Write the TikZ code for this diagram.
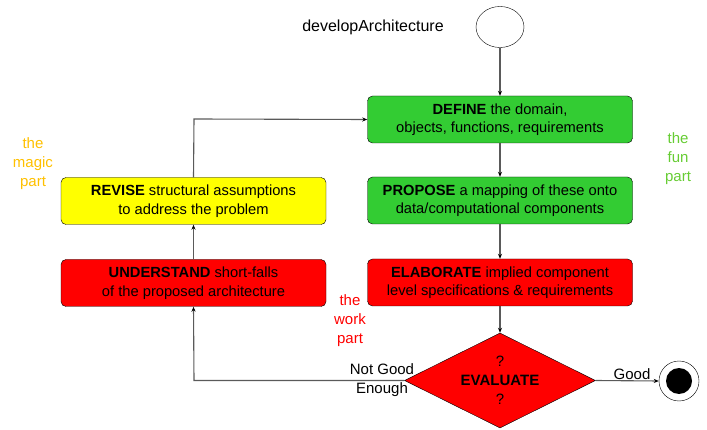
\documentclass[tikz,border=0pt]{standalone}
\usepackage{fontspec}
\setmainfont{Liberation Sans}
\usetikzlibrary{shapes.geometric,arrows.meta}
\definecolor{fgreen}{RGB}{51,204,51}
\definecolor{fred}{RGB}{255,0,0}
\definecolor{fyellow}{RGB}{255,255,0}
\definecolor{magic}{RGB}{255,192,0}
\definecolor{fun}{RGB}{102,204,51}
\definecolor{linegray}{RGB}{90,90,90}
\tikzset{
  x=1pt,y=-1pt,
  stepbox/.style={draw=black,rounded corners=5pt,minimum width=265pt,minimum height=47pt,align=center,font=\fontsize{14.7}{18.5}\selectfont,inner sep=0pt},
  conn/.style={draw=linegray,line width=1.1pt,-{Stealth[length=5pt,width=4pt,black]}},
  lbl/.style={font=\fontsize{15}{19}\selectfont,align=center},
}
\begin{document}
\begin{tikzpicture}
\useasboundingbox (0,0) rectangle (707,430);
\node[draw,ellipse,minimum width=48pt,minimum height=41pt,inner sep=0pt] (start) at (500,27) {};
\node[lbl,font=\fontsize{16}{19}\selectfont] (title) at (373,27) {developArchitecture};
\node[stepbox,fill=fgreen] (define) at (500,119.5) {\textbf{DEFINE} the domain,\\objects, functions, requirements};
\node[stepbox,fill=fgreen] (propose) at (500,200.5) {\textbf{PROPOSE} a mapping of these onto\\data/computational components};
\node[stepbox,fill=fred] (elab) at (500,282.5) {\textbf{ELABORATE} implied component\\level specifications \& requirements};
\node[stepbox,fill=fyellow] (revise) at (193.5,201) {\textbf{REVISE} structural assumptions\\to address the problem};
\node[stepbox,fill=fred] (under) at (193.5,283) {\textbf{UNDERSTAND} short-falls\\of the proposed architecture};
\node[draw,diamond,fill=fred,minimum width=191pt,minimum height=95pt,inner sep=0pt,aspect=2] (eval) at (500,380.5) {};
\node[lbl,align=center] (evaltext) at (500,380.5) {?\\\textbf{EVALUATE}\\?};
\node[draw,circle,minimum size=40pt,inner sep=0pt] (endo) at (679,381) {};
\node[circle,fill=black,minimum size=26pt,inner sep=0pt] (endi) at (679,381) {};
\coordinate (cornerA) at (194,380.5);
\coordinate (cornerB) at (194,119);
\node[lbl,text=magic] (magic) at (33,164) {the\\magic\\part};
\node[lbl,text=fun] (fun) at (678,159) {the\\fun\\part};
\node[lbl,text=fred] (work) at (350,321) {the\\work\\part};
\node[lbl,inner sep=0pt] (notgood) at (382,380.5) {Not Good\\Enough};
\node[lbl,inner sep=0pt] (good) at (632,374) {Good};
\draw[conn] (start) -- (define);
\draw[conn] (define) -- (propose);
\draw[conn] (propose) -- (elab);
\draw[conn] (elab) -- (eval);
\draw[conn] (eval.east) -- (endo.west);
\draw[conn] (eval.west) -- (cornerA) -- (under.south);
\draw[conn] (under) -- (revise);
\draw[conn] (revise.north) -- (cornerB) -- (define.west);
\end{tikzpicture}
\end{document}
